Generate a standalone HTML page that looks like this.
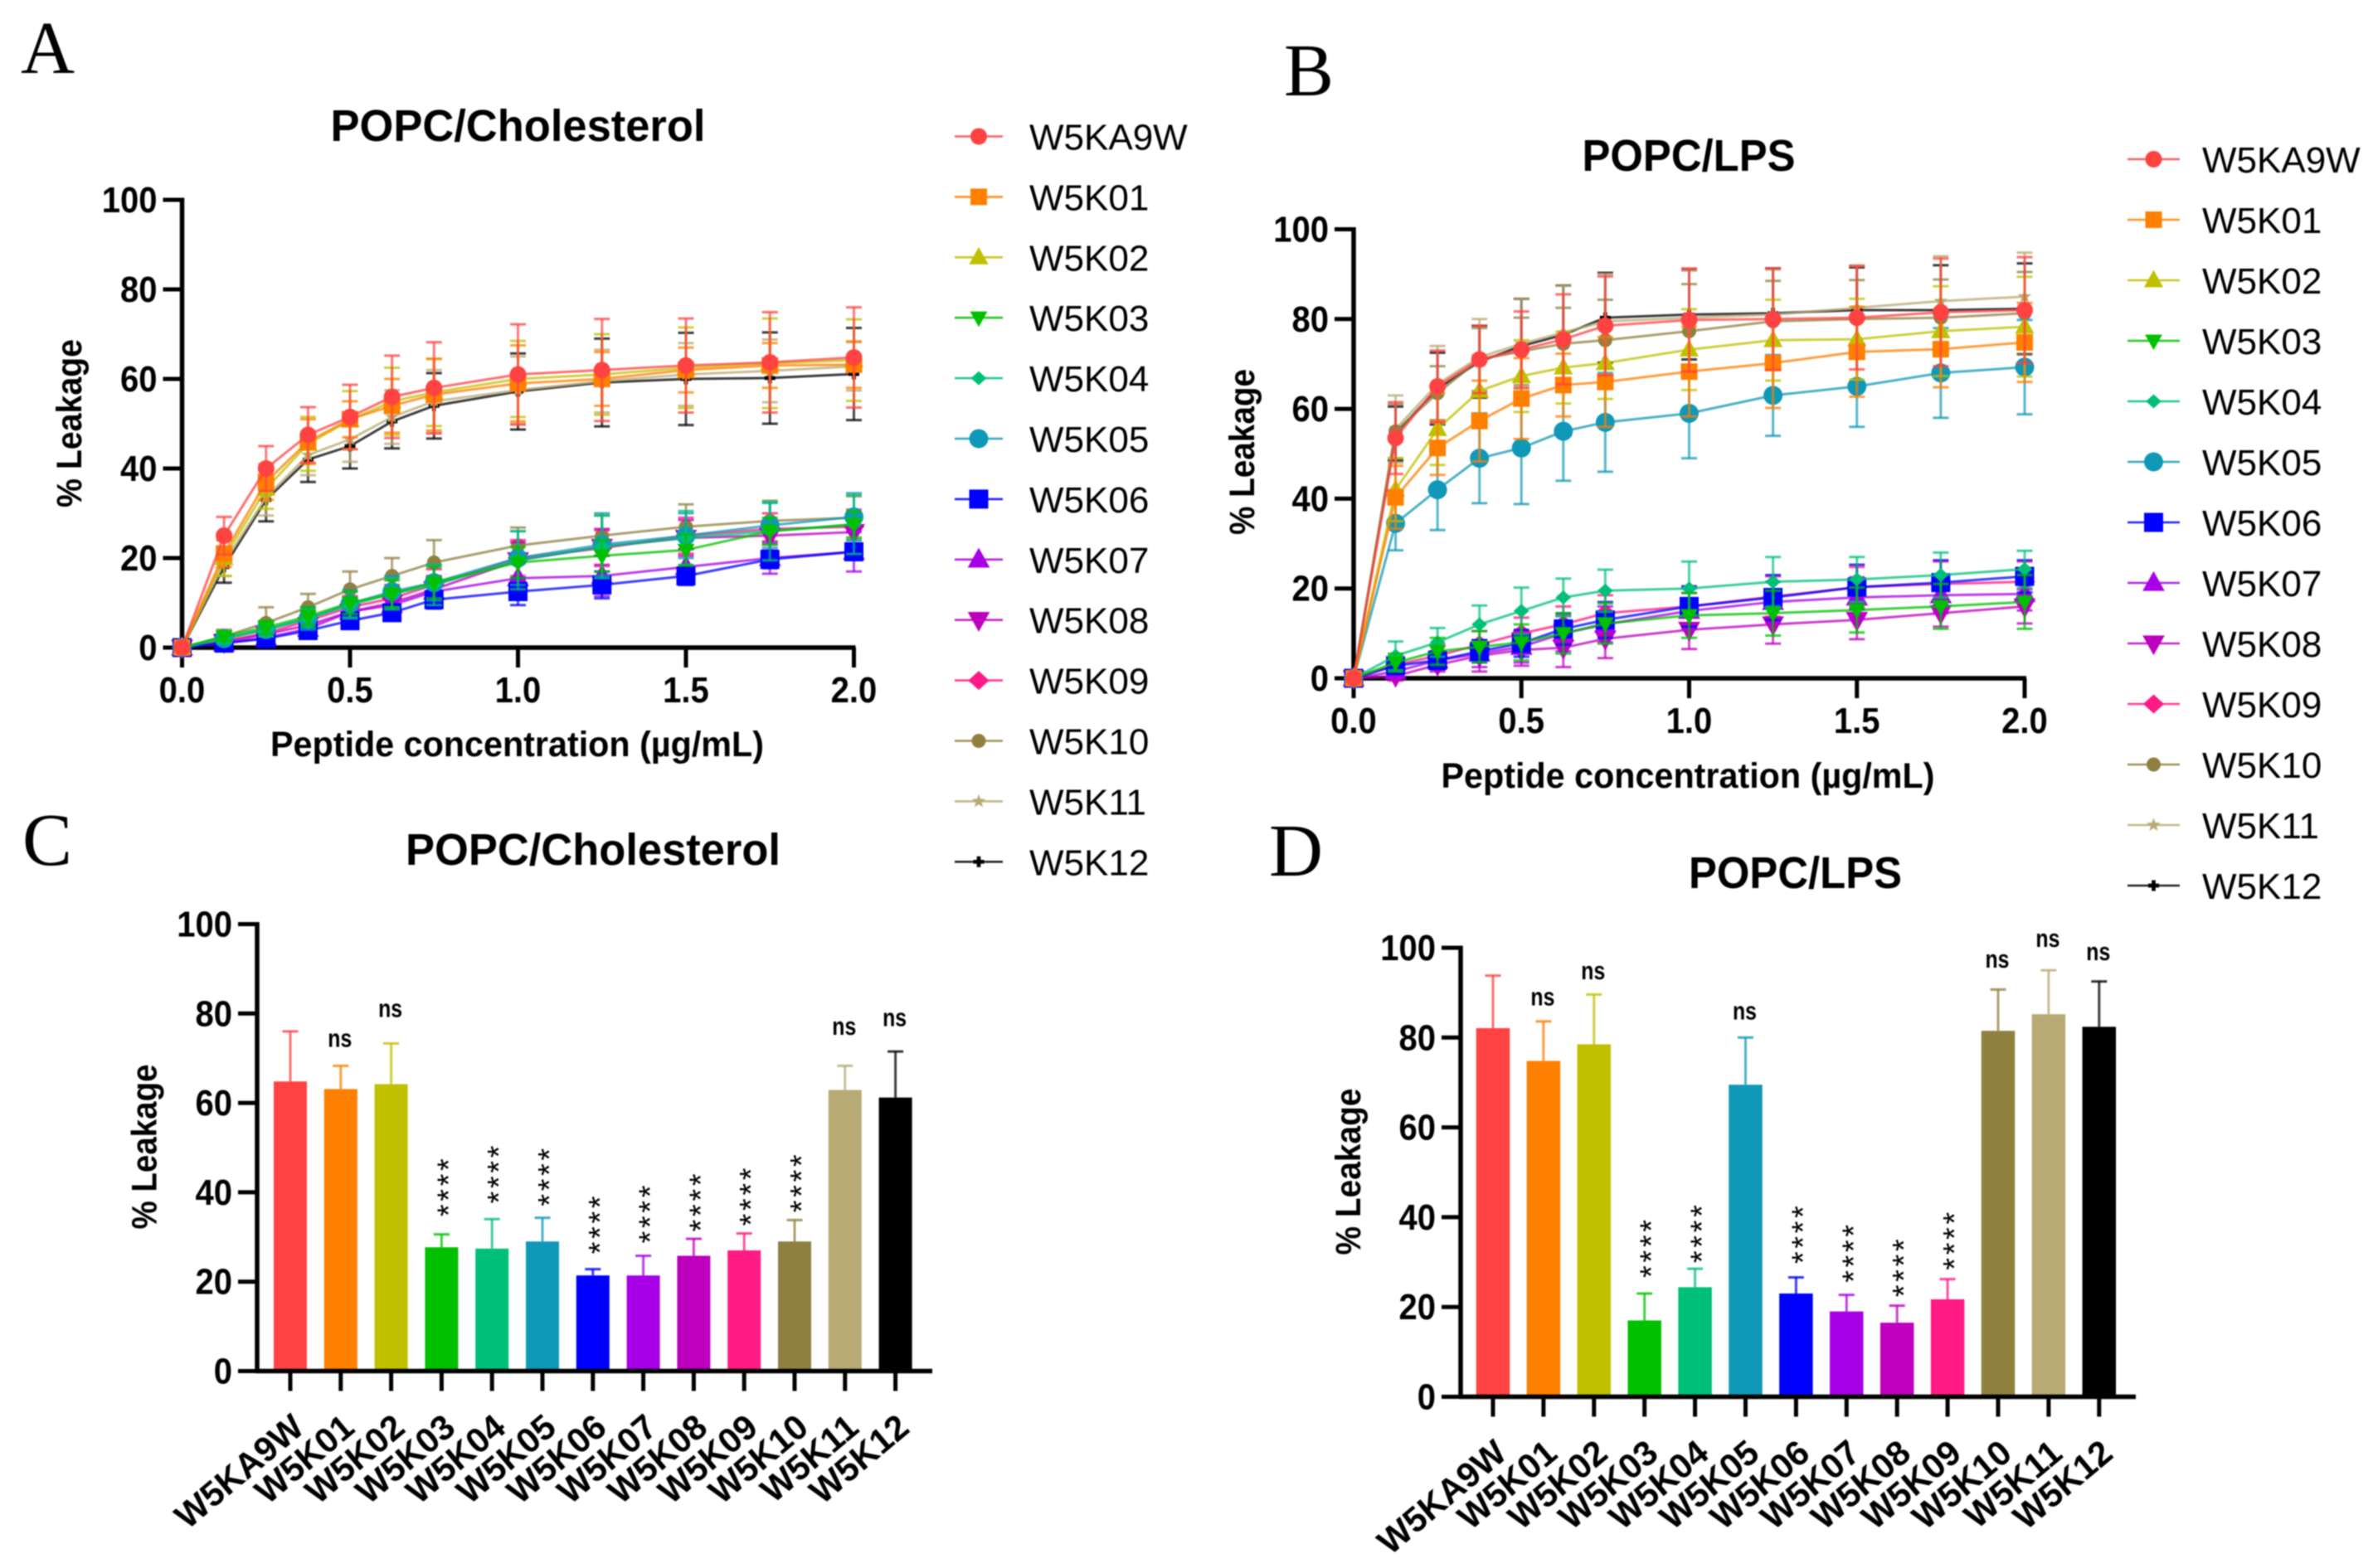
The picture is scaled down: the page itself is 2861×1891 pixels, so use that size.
<!DOCTYPE html>
<html lang="en">
<head>
<meta charset="utf-8">
<title>Peptide leakage in POPC/Cholesterol and POPC/LPS vesicles</title>
<style>
html,body{margin:0;padding:0;background:#fff;}
#figure{display:block;width:2861px;height:1891px;filter:blur(0.8px);}
text{font-family:"Liberation Sans",sans-serif;fill:#000;}
.letter{font-family:"Liberation Serif",serif;font-size:90px;}
.title{font-weight:bold;font-size:54px;text-anchor:middle;}
.axis-title{font-weight:bold;font-size:43px;text-anchor:middle;}
.tick{font-weight:bold;font-size:44px;}
.cat{font-weight:bold;font-size:42px;text-anchor:end;}
.legend{font-size:44px;}
.ns{font-weight:bold;font-size:31px;text-anchor:middle;}
.stars{font-size:38px;letter-spacing:3.6px;text-anchor:middle;}
</style>
</head>
<body>
<svg id="figure" xmlns="http://www.w3.org/2000/svg" width="2861" height="1891" viewBox="0 0 2861 1891">
  <rect width="2861" height="1891" fill="#fff"/>

  <text class="letter" x="25" y="88">A</text>
  <text class="letter" x="1548" y="115">B</text>
  <text class="letter" x="27" y="1043">C</text>
  <text class="letter" x="1530" y="1056">D</text>

  <text class="title" x="624.5" y="170" textLength="452" lengthAdjust="spacingAndGlyphs">POPC/Cholesterol</text>
  <text class="title" x="2036" y="206" textLength="257" lengthAdjust="spacingAndGlyphs">POPC/LPS</text>
  <text class="title" x="715" y="1043" textLength="452" lengthAdjust="spacingAndGlyphs">POPC/Cholesterol</text>
  <text class="title" x="2164.5" y="1071" textLength="257" lengthAdjust="spacingAndGlyphs">POPC/LPS</text>

  <text class="axis-title" x="623.5" y="912" textLength="595" lengthAdjust="spacingAndGlyphs">Peptide concentration (µg/mL)</text>
  <text class="axis-title" x="2035" y="950" textLength="595" lengthAdjust="spacingAndGlyphs">Peptide concentration (µg/mL)</text>

  <text class="axis-title" transform="translate(98 510.5) rotate(-90)" textLength="203" lengthAdjust="spacingAndGlyphs">% Leakage</text>
  <text class="axis-title" transform="translate(1512 545) rotate(-90)" textLength="200" lengthAdjust="spacingAndGlyphs">% Leakage</text>
  <text class="axis-title" transform="translate(188.5 1383) rotate(-90)" textLength="199" lengthAdjust="spacingAndGlyphs">% Leakage</text>
  <text class="axis-title" transform="translate(1640 1413) rotate(-90)" textLength="201" lengthAdjust="spacingAndGlyphs">% Leakage</text>

  <g id="panel-a"></g>
  <g id="panel-b"></g>
  <g id="panel-c"></g>
  <g id="panel-d"></g>
  <g id="legend-a"></g>
  <g id="legend-b"></g>
</svg>

<script>
// ---- shared categories and ticks ----
const peptides = ["W5KA9W","W5K01","W5K02","W5K03","W5K04","W5K05","W5K06","W5K07","W5K08","W5K09","W5K10","W5K11","W5K12"];
const concentrations = [0,0.125,0.25,0.375,0.5,0.625,0.75,1,1.25,1.5,1.75,2];
const xTicks = [0,0.5,1,1.5,2];
const xTickLabels = ["0.0","0.5","1.0","1.5","2.0"];
const yTicks = [0,20,40,60,80,100];
const yTickLabels = ["0","20","40","60","80","100"];

// ---- panel A means ----
const aW5KA9W = [0,25,40,47.5,51.5,56,58,61,62,63,63.7,64.8];
const aW5K01 = [0,21,37,46,51,54,56.5,59,60,62,63,63.2];
const aW5K02 = [0,20,35.5,45.5,50.8,55,57,60,61,62.5,63.5,64.2];
const aW5K03 = [0,2.5,4.5,7,10,12,14.5,19,20.5,21.8,26,27.5];
const aW5K04 = [0,2,4,6.5,9.5,12,14,19.5,22.5,24.5,26,27.5];
const aW5K05 = [0,2,4,6.5,9.8,12.5,14.5,20,23,25,27.3,29.2];
const aW5K06 = [0,1,2,3.8,6,7.8,10.7,12.5,14,16,19.7,21.4];
const aW5K07 = [0,1,2.2,4.2,8,9.5,12.5,15.5,16,18,20,21.4];
const aW5K08 = [0,1.2,3,5,8,10,13,19.5,22.5,24.5,25,25.8];
const aW5K09 = [0,1.5,3.2,6,9,11,14,20,22.2,25,26.5,27];
const aW5K10 = [0,2.5,5.5,9,13,16,19,22.8,25,27,28.3,29];
const aW5K11 = [0,19,33.5,43,46.5,51.5,55,57.5,59.5,61,61.8,62.8];
const aW5K12 = [0,18,33,42,45,50.5,54,57.2,59.2,60,60.2,61.1];

// ---- panel A error bars ----
const aErrW5KA9W = [0,4.2,5,6.2,7.2,9.2,10.2,11.2,11.4,10.5,11.2,11.2];
const aErrW5K01 = [0,3,4,5,4,6,8,8.5,6,5,5,5.2];
const aErrW5K02 = [0,4,4.5,6,6.5,7.5,7.5,8.5,9,9,10,9.1];
const aErrW5K03 = [0,1,1.5,2,2.5,3,3.5,3.5,3.5,3.5,3,2.9];
const aErrW5K04 = [0,1,1.5,2,3,3.5,4.5,6.5,7,6,6.5,6.6];
const aErrW5K05 = [0,1,1.5,2.5,3,3.5,4,6,7,5,5,5.3];
const aErrW5K06 = [0,0.5,1,1,1.2,1.5,2,3,3,2,2,1.4];
const aErrW5K07 = [0,0.8,1.2,1.5,2.5,3,3,4,4.5,4,3.5,4.4];
const aErrW5K08 = [0,0.8,1.5,2,2.5,3,3,4,4,4,3.5,3.8];
const aErrW5K09 = [0,1,1.5,2,2.5,3,3.5,4,4,4,3.5,3.8];
const aErrW5K10 = [0,1.5,3.5,3,4,4,5,4,4.5,5,4.5,4.8];
const aErrW5K11 = [0,3,4,4.5,5,6,7,7.5,7,7,7,5.4];
const aErrW5K12 = [0,3.5,4.8,5,5,6,7.3,8.5,9.8,10.3,10.2,10.3];

// ---- panel B means ----
const bW5KA9W = [0,53.5,65,71,73.2,75.5,78.5,79.8,80,80.3,81.5,82];
const bW5K01 = [0,40.3,51.3,57.3,62.3,65.3,66,68.3,70.2,72.7,73.3,74.8];
const bW5K02 = [0,42,55.5,64,67.3,69.2,70.2,73.2,75.3,75.5,77.3,78.3];
const bW5K03 = [0,3.5,6,7,8,10,12.2,14,14.5,15.2,16,17];
const bW5K04 = [0,5,8,12,15,18,19.5,20,21.5,22,23,24.3];
const bW5K05 = [0,34.5,42,49,51.3,55,57,59,63,65,68,69.3];
const bW5K06 = [0,2.8,4,6,7.8,11,13,16,18,20.3,21.3,22.7];
const bW5K07 = [0,1.5,4,5.5,7,10,12,15,17,18,18.5,18.8];
const bW5K08 = [0,0.5,3,5,6.3,6.8,8.8,10.8,12,13,14.5,16];
const bW5K09 = [0,3,5,7.5,10,12,14.5,16,18.2,20.3,21,21.5];
const bW5K10 = [0,55,63.5,71,72.8,74.5,75.3,77.3,79.5,80,80.3,81.3];
const bW5K11 = [0,55.5,65.5,71.5,74.5,77,79.5,80.3,81,82.5,84,85];
const bW5K12 = [0,54.5,64.5,70.5,74,76.5,80.3,81,81.3,82,82,82.3];

// ---- panel B error bars ----
const bErrW5KA9W = [0,8,8,7.5,8.5,10,11,11.5,11.3,11.5,12,11.8];
const bErrW5K01 = [0,7,6,9,9,7,10,10,10,10,8.5,8.8];
const bErrW5K02 = [0,7,8,8,8,8,8,9,9,9,10,11.1];
const bErrW5K03 = [0,2,3,3.5,4,4.5,4.5,5,5,5,5,6];
const bErrW5K04 = [0,3.2,3.2,4.2,5.2,4.2,4.7,6,5.5,5,5,4.1];
const bErrW5K05 = [0,6,9,10,12.5,11,11,10,9,9,10,10.5];
const bErrW5K06 = [0,1.5,2,2.5,3,3.5,4,4.5,5,5,5,3.6];
const bErrW5K07 = [0,1.5,2,3,3.5,4,4,4,4.5,4.5,4,3.7];
const bErrW5K08 = [0,1,1.5,3.5,3.5,4.3,4.3,4.3,4.3,4.3,3,3.8];
const bErrW5K09 = [0,2,2.5,3,3.5,4,4,4,4.5,4.5,5,4.5];
const bErrW5K10 = [0,6,6,7,7.5,8,9,10.5,9,8.7,8.5,9.2];
const bErrW5K11 = [0,7.5,8.5,8.5,10,10.5,10.5,10.5,10,9.5,10,9.8];
const bErrW5K12 = [0,6,8,8,10.5,11,10,10,10,9.5,10,10.1];

// ---- panel C bars ----
const cMeans = [64.8,63.1,64.2,27.7,27.4,29,21.4,21.4,25.8,27,29,62.9,61.2];
const cErrors = [11.2,5.2,9.1,2.9,6.6,5.3,1.4,4.4,3.8,3.8,4.8,5.4,10.3];
const cSignificance = ["","ns","ns","****","****","****","****","****","****","****","****","ns","ns"];
const cSignificanceLevel = [0,72.5,79.2,41.4,44.3,43.7,33,35.4,38,39.3,42.3,75.2,77.2];

// ---- panel D bars ----
const dMeans = [82.1,74.8,78.5,17,24.4,69.5,23,19,16.5,21.7,81.5,85.2,82.4];
const dErrors = [11.7,8.8,11.1,6,4.1,10.5,3.6,3.7,3.8,4.5,9.2,9.8,10.1];
const dSignificance = ["","ns","ns","****","****","ns","****","****","****","****","ns","ns","ns"];
const dSignificanceLevel = [0,87.2,93,33.3,36.6,84,36.4,32.2,29,35,95.6,100.2,97.2];

// ---- series groupings ----
const aMeans = [aW5KA9W,aW5K01,aW5K02,aW5K03,aW5K04,aW5K05,aW5K06,aW5K07,aW5K08,aW5K09,aW5K10,aW5K11,aW5K12];
const aErrors = [aErrW5KA9W,aErrW5K01,aErrW5K02,aErrW5K03,aErrW5K04,aErrW5K05,aErrW5K06,aErrW5K07,aErrW5K08,aErrW5K09,aErrW5K10,aErrW5K11,aErrW5K12];
const bMeans = [bW5KA9W,bW5K01,bW5K02,bW5K03,bW5K04,bW5K05,bW5K06,bW5K07,bW5K08,bW5K09,bW5K10,bW5K11,bW5K12];
const bErrors = [bErrW5KA9W,bErrW5K01,bErrW5K02,bErrW5K03,bErrW5K04,bErrW5K05,bErrW5K06,bErrW5K07,bErrW5K08,bErrW5K09,bErrW5K10,bErrW5K11,bErrW5K12];

// ---- appearance (separate from the data) ----
const seriesColors = ["#ff4242","#ff7f00","#c0c000","#00c000","#00c078","#1098b8","#0000ff","#a800e6","#be00be","#ff1a84","#908040","#b8aa74","#000000"];
const seriesShapes = ["circle","square","up","down","diamond","circle","square","up","down","diamond","circle","star","plus"];
const shapeSizes = [20,20,20,18,17,23,23,23,23,23,17,14,13];

const NS = "http://www.w3.org/2000/svg";

function create(parent, tag, name) {
  const el = document.createElementNS(NS, tag);
  
  
  parent.appendChild(el);
  return el;
}
function attrs(el, map) {
  for (const k in map) el.setAttribute(k, map[k]);
  return el;
}
function slug(s) { return s.toLowerCase(); }

function drawLine(parent, name, x1, y1, x2, y2, color, width, opacity) {
  const l = create(parent, 'line', name);
  attrs(l, {x1:x1, y1:y1, x2:x2, y2:y2, stroke:color, 'stroke-width':width});
  if (opacity !== undefined) l.setAttribute('stroke-opacity', opacity);
  return l;
}

function starPoints(x, y, s) {
  const pts = [];
  const outer = s * 0.62, inner = s * 0.26;
  for (let k = 0; k < 10; k++) {
    const r = k % 2 ? inner : outer;
    const a = -Math.PI / 2 + k * Math.PI / 5;
    pts.push((x + r * Math.cos(a)).toFixed(1) + ',' + (y + r * Math.sin(a)).toFixed(1));
  }
  return pts.join(' ');
}

function drawMarker(parent, name, shape, x, y, s, color) {
  let m;
  if (shape === 'circle') {
    m = create(parent, 'circle', name);
    attrs(m, {cx:x, cy:y, r:s / 2});
  } else if (shape === 'square') {
    m = create(parent, 'rect', name);
    attrs(m, {x:x - s / 2, y:y - s / 2, width:s, height:s});
  } else if (shape === 'up') {
    m = create(parent, 'polygon', name);
    attrs(m, {points:[x + ',' + (y - s * 0.62), (x + s * 0.58) + ',' + (y + s * 0.42), (x - s * 0.58) + ',' + (y + s * 0.42)].join(' ')});
  } else if (shape === 'down') {
    m = create(parent, 'polygon', name);
    attrs(m, {points:[x + ',' + (y + s * 0.62), (x + s * 0.58) + ',' + (y - s * 0.42), (x - s * 0.58) + ',' + (y - s * 0.42)].join(' ')});
  } else if (shape === 'diamond') {
    m = create(parent, 'polygon', name);
    attrs(m, {points:[x + ',' + (y - s * 0.5), (x + s * 0.55) + ',' + y, x + ',' + (y + s * 0.5), (x - s * 0.55) + ',' + y].join(' ')});
  } else if (shape === 'star') {
    m = create(parent, 'polygon', name);
    attrs(m, {points:starPoints(x, y, s)});
  } else {
    m = create(parent, 'path', name);
    const a = s * 0.18, b = s * 0.5;
    attrs(m, {d:'M' + (x - a) + ' ' + (y - b) + 'h' + (2 * a) + 'v' + (b - a) + 'h' + (b - a) + 'v' + (2 * a) + 'h' + (a - b) + 'v' + (b - a) + 'h' + (-2 * a) + 'v' + (a - b) + 'h' + (a - b) + 'v' + (-2 * a) + 'h' + (b - a) + 'z'});
  }
  m.setAttribute('fill', color);
  return m;
}

// Tick labels in the source are slightly condensed compared with Liberation Sans Bold.
function condensedLength(label) {
  let em = 0;
  for (const ch of label) em += ch === '.' ? 0.278 : 0.556;
  return em * 44 * 0.91;
}

function drawYAxis(parent, prefix, left, yOf, rightEnd) {
  const g = create(parent, 'g', prefix + '-y-axis');
  drawLine(g, 'y-axis-line', left, yOf(100) - 2.5, left, yOf(0) + 2.5, '#000', 5.5);
  yTicks.forEach(function (t, i) {
    drawLine(g, 'y-tick-' + yTickLabels[i], left - 23, yOf(t), left, yOf(t), '#000', 5);
    const lab = create(g, 'text', 'y-tick-label-' + yTickLabels[i]);
    attrs(lab, {x:left - 30, y:yOf(t) + 15, class:'tick', 'text-anchor':'end',
      textLength:condensedLength(yTickLabels[i]), lengthAdjust:'spacingAndGlyphs'});
    lab.textContent = yTickLabels[i];
  });
  drawLine(g, 'x-axis-line', left - 2, yOf(0), rightEnd, yOf(0), '#000', 5.5);
}

function drawLineChart(id, prefix, geom, means, errors) {
  const root = document.getElementById(id);
  const xOf = function (v) { return geom.x0 + (geom.x1 - geom.x0) * v / 2; };
  const yOf = function (v) { return geom.y0 + (geom.y100 - geom.y0) * v / 100; };
  drawYAxis(root, prefix, geom.x0, yOf, geom.x1 + 2);
  xTicks.forEach(function (t, i) {
    drawLine(root, 'x-tick-' + xTickLabels[i], xOf(t), geom.y0, xOf(t), geom.y0 + 24, '#000', 5);
    const lab = create(root, 'text', 'x-tick-label-' + xTickLabels[i]);
    attrs(lab, {x:xOf(t), y:geom.y0 + 66, class:'tick', 'text-anchor':'middle',
      textLength:condensedLength(xTickLabels[i]), lengthAdjust:'spacingAndGlyphs'});
    lab.textContent = xTickLabels[i];
  });
  for (let s = peptides.length - 1; s >= 0; s--) {
    const g = create(root, 'g', prefix + '-series-' + slug(peptides[s]));
    const color = seriesColors[s];
    const line = create(g, 'polyline', 'series-line');
    attrs(line, {points:concentrations.map(function (c, i) { return xOf(c) + ',' + yOf(means[s][i]); }).join(' '),
      fill:'none', stroke:color, 'stroke-width':3, 'stroke-opacity':0.75, 'stroke-linejoin':'round'});
    concentrations.forEach(function (c, i) {
      drawMarker(g, 'data-point', seriesShapes[s], xOf(c), yOf(means[s][i]), shapeSizes[s], color);
    });
    concentrations.forEach(function (c, i) {
      const e = errors[s][i];
      if (!e) return;
      const x = xOf(c);
      const hi = yOf(means[s][i] + e), lo = yOf(means[s][i] - e);
      drawLine(g, 'error-bar', x, hi, x, lo, color, 3, 0.7);
      drawLine(g, 'error-cap-upper', x - 9.5, hi, x + 9.5, hi, color, 3, 0.75);
      drawLine(g, 'error-cap-lower', x - 9.5, lo, x + 9.5, lo, color, 3, 0.75);
    });
  }
}

function drawBarChart(id, prefix, geom, means, errors, sig, sigLevel) {
  const root = document.getElementById(id);
  const xOf = function (i) { return geom.first + i * geom.step; };
  const yOf = function (v) { return geom.y0 + (geom.y100 - geom.y0) * v / 100; };
  peptides.forEach(function (p, i) {
    const g = create(root, 'g', prefix + '-bar-group-' + slug(p));
    const x = xOf(i);
    const color = seriesColors[i];
    const top = yOf(means[i]);
    const errTop = yOf(means[i] + errors[i]);
    drawLine(g, 'error-bar', x, errTop, x, top, color, 3, 0.75);
    drawLine(g, 'error-cap', x - 9.5, errTop, x + 9.5, errTop, color, 3, 0.8);
    const bar = create(g, 'rect', 'bar-' + slug(p));
    attrs(bar, {x:x - geom.width / 2, y:top, width:geom.width, height:geom.y0 - top, fill:color});
    if (sig[i] === 'ns') {
      const t = create(g, 'text', 'significance-ns');
      attrs(t, {x:x - 1, y:yOf(sigLevel[i]), class:'ns', textLength:29, lengthAdjust:'spacingAndGlyphs'});
      t.textContent = sig[i];
    } else if (sig[i]) {
      const t = create(g, 'text', 'significance-stars');
      attrs(t, {class:'stars', transform:'translate(' + (x + 21) + ' ' + yOf(sigLevel[i]) + ') rotate(-90)'});
      t.textContent = sig[i];
    }
  });
  drawYAxis(root, prefix, geom.left, yOf, geom.right);
  peptides.forEach(function (p, i) {
    const x = xOf(i);
    drawLine(root, 'x-tick-' + slug(p), x, geom.y0, x, geom.y0 + 24, '#000', 5);
    const lab = create(root, 'text', 'x-tick-label-' + slug(p));
    attrs(lab, {class:'cat', transform:'translate(' + (x + 19) + ' ' + (geom.y0 + 72) + ') rotate(-40)'});
    lab.textContent = p;
  });
}

function drawLegend(id, lineStart, lineEnd, textX, firstY, step) {
  const root = document.getElementById(id);
  peptides.forEach(function (p, i) {
    const g = create(root, 'g', 'legend-entry-' + slug(p));
    const y = firstY + i * step;
    drawLine(g, 'legend-line', lineStart, y, lineEnd, y, seriesColors[i], 2.6, 0.85);
    drawMarker(g, 'legend-marker', seriesShapes[i], (lineStart + lineEnd) / 2, y, shapeSizes[i], seriesColors[i]);
    const t = create(g, 'text', 'legend-label');
    attrs(t, {x:textX, y:y + 16, class:'legend'});
    t.textContent = p;
  });
}

drawLineChart('panel-a', 'panel-a', {x0:219.5, x1:1029.5, y0:781, y100:241}, aMeans, aErrors);
drawLineChart('panel-b', 'panel-b', {x0:1632, x1:2441, y0:818, y100:276.5}, bMeans, bErrors);
drawBarChart('panel-c', 'panel-c', {left:310, right:1124, first:350, step:60.8, width:40, y0:1653.5, y100:1114.5}, cMeans, cErrors, cSignificance, cSignificanceLevel);
drawBarChart('panel-d', 'panel-d', {left:1761, right:2575, first:1800, step:60.9, width:40.5, y0:1684.5, y100:1143}, dMeans, dErrors, dSignificance, dSignificanceLevel);
drawLegend('legend-a', 1151, 1209, 1241, 164.5, 72.9);
drawLegend('legend-b', 2565, 2628, 2655, 192, 73);
</script>
</body>
</html>
